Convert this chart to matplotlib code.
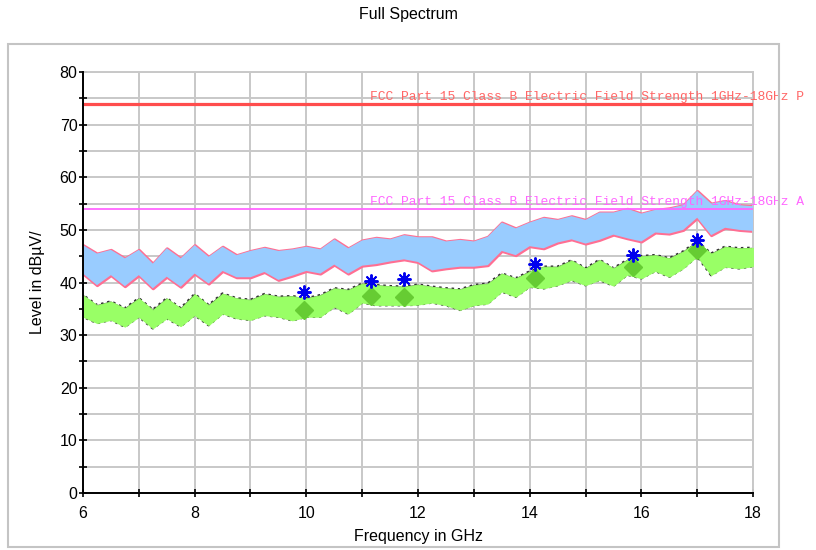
import matplotlib
matplotlib.use("Agg")
from matplotlib import pyplot as plt
from matplotlib.patches import Rectangle
from matplotlib.ticker import MultipleLocator

# frequency samples (GHz) and envelopes of the two traces (dBuV/m)
freq = [6.0, 6.25, 6.5, 6.75, 7.0, 7.25, 7.5, 7.75, 8.0, 8.25, 8.5, 8.75,
        9.0, 9.25, 9.5, 9.75, 10.0, 10.25, 10.5, 10.75, 11.0, 11.25, 11.5, 11.75,
        12.0, 12.25, 12.5, 12.75, 13.0, 13.25, 13.5, 13.75, 14.0, 14.25, 14.5, 14.75,
        15.0, 15.25, 15.5, 15.75, 16.0, 16.25, 16.5, 16.75, 17.0, 17.25, 17.5, 17.75, 18.0]

pk_top = [47.1, 45.5, 46.2, 44.6, 46.2, 43.6, 46.5, 44.6, 47.1, 44.9, 46.8, 45.2,
          46.0, 46.6, 46.0, 46.3, 46.8, 46.3, 48.2, 46.5, 48.0, 48.5, 48.2, 49.0,
          48.6, 48.6, 47.8, 48.1, 47.8, 48.7, 51.4, 50.3, 51.4, 52.3, 51.9, 52.6,
          51.9, 53.3, 53.3, 54.0, 53.1, 53.8, 54.1, 54.7, 57.4, 55.0, 55.5, 54.7, 54.5]
pk_bot = [41.7, 39.5, 41.4, 39.3, 41.4, 38.9, 41.1, 39.2, 41.7, 39.8, 42.2, 41.0,
          41.0, 42.0, 40.5, 41.3, 42.2, 41.7, 43.4, 41.7, 43.2, 43.5, 44.0, 44.4,
          43.9, 42.3, 42.7, 43.0, 43.0, 43.3, 46.0, 45.2, 46.9, 46.5, 47.6, 48.2,
          47.4, 48.1, 49.1, 48.4, 47.8, 49.5, 49.3, 50.0, 52.3, 49.0, 50.4, 50.0, 49.8]

av_top = [37.6, 35.7, 36.4, 35.1, 37.0, 34.8, 37.0, 35.1, 37.8, 35.7, 37.9, 37.0,
          36.7, 37.8, 37.3, 37.4, 37.0, 37.6, 38.9, 38.6, 39.8, 39.5, 39.3, 39.2,
          39.6, 39.2, 38.9, 38.7, 39.5, 39.8, 41.7, 40.8, 42.1, 43.0, 43.0, 44.2,
          42.7, 44.3, 42.7, 44.3, 45.0, 45.2, 44.6, 45.9, 47.8, 45.5, 46.8, 46.5, 46.6]
av_bot = [33.5, 32.3, 32.9, 31.6, 33.5, 31.3, 33.2, 31.7, 33.8, 31.9, 34.1, 33.2,
          32.9, 33.8, 33.5, 32.8, 33.5, 33.5, 35.4, 34.1, 36.2, 35.7, 35.7, 35.7,
          35.8, 36.2, 35.7, 34.8, 35.7, 36.0, 38.3, 37.3, 39.2, 38.9, 39.5, 40.5,
          39.5, 40.5, 39.4, 41.5, 40.8, 42.2, 41.1, 42.7, 45.0, 41.4, 43.0, 42.7, 43.1]

# final measurement points
mark_f = [9.95, 11.15, 11.75, 14.1, 15.85, 16.99]
mark_pk = [38.2, 40.3, 40.6, 43.5, 45.3, 48.0]
mark_av = [34.8, 37.5, 37.3, 40.8, 43.0, 46.2]

limit_pk = 74
limit_av = 54
# the labels run off the right edge of the picture, only this much is visible
label_pk = "FCC Part 15 Class B Electric Field Strength 1GHz-18GHz P"
label_av = "FCC Part 15 Class B Electric Field Strength 1GHz-18GHz A"

plt.rcParams['font.family'] = ['Liberation Sans', 'DejaVu Sans']

fig = plt.figure(figsize=(8.16, 5.5), dpi=100)
ax = fig.add_axes([0.1017, 0.1036, 0.8211, 0.7655])

# outer frame
fig.patches.append(Rectangle((0.0098, 0.0055), 0.9449, 0.9145, transform=fig.transFigure,
                             fill=False, edgecolor='#c4c4c4', linewidth=1.5))

ax.set_xlim(6, 18)
ax.set_ylim(0, 80)
ax.xaxis.set_major_locator(MultipleLocator(2))
ax.xaxis.set_minor_locator(MultipleLocator(1))
ax.yaxis.set_major_locator(MultipleLocator(10))
ax.yaxis.set_minor_locator(MultipleLocator(5))
ax.grid(True, which='both', color='#c8c8c8', linewidth=1.4, zorder=0)
ax.set_axisbelow(True)
ax.tick_params(which='both', direction='inout', length=6, width=1.2, color='black',
               labelsize=11.5)
ax.tick_params(axis='y', pad=1)
ax.tick_params(axis='x', pad=6)

for s in ['top', 'right']:
    ax.spines[s].set_color('#c8c8c8')
    ax.spines[s].set_linewidth(1.4)
for s in ['left', 'bottom']:
    ax.spines[s].set_color('black')
    ax.spines[s].set_linewidth(1.4)
    ax.spines[s].set_zorder(6)

# peak trace (pink under light blue)
ax.fill_between(freq, pk_bot, pk_top, facecolor='#ff6f93', edgecolor='#ff6f93',
                linewidth=2.2, zorder=2)
ax.fill_between(freq, pk_bot, pk_top, facecolor='#99ccff', edgecolor='none', zorder=3)

# average trace (dark dotted edge under light green)
ax.fill_between(freq, av_bot, av_top, facecolor='#444444', edgecolor='#333333',
                linewidth=1.8, linestyle=(0, (1, 1.5)), zorder=2)
ax.fill_between(freq, av_bot, av_top, facecolor='#99ff66', edgecolor='#99ff66',
                linewidth=0.6, zorder=3)

# limit lines
ax.axhline(limit_pk, color='#ff4d4d', linewidth=2.3, zorder=4)
ax.axhline(limit_av, color='#ff66ff', linewidth=1.3, zorder=4)
ax.text(11.14, limit_pk + 0.2, label_pk, color='#ff6666', fontsize=9.4,
        family='Liberation Mono', va='bottom', ha='left', clip_on=False, zorder=5)
ax.text(11.14, limit_av + 0.2, label_av, color='#ff66ff', fontsize=9.4,
        family='Liberation Mono', va='bottom', ha='left', clip_on=False, zorder=5)

# markers
ax.plot(mark_f, mark_av, linestyle='none', marker='D', markersize=9,
        color='#66cc33', zorder=5, clip_on=False)
ax.plot(mark_f, mark_pk, linestyle='none', marker=(8, 2, 0), markersize=10,
        markeredgewidth=1.4, color='#0000ee', zorder=5, clip_on=False)

ax.set_xlabel("Frequency in GHz", fontsize=11.5)
ax.set_ylabel("Level in dBµV/", fontsize=11.5)
ax.xaxis.set_label_coords(0.5, -0.086)
ax.yaxis.set_label_coords(-0.057, 0.5)

fig.text(0.5, 0.973, "Full Spectrum", ha='center', va='center', fontsize=11.5)

fig.savefig("out.png", dpi=100)
